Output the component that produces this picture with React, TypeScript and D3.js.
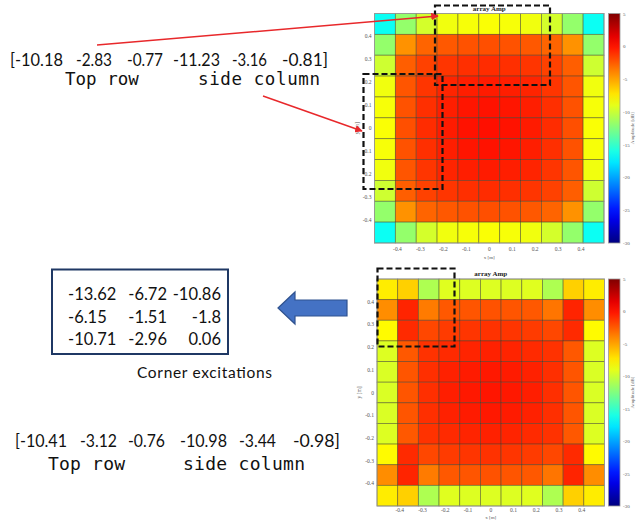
import React from "react";
import * as d3 from "d3";

// amplitude in dB, rows from top (y = 0.5) to bottom (y = -0.5)
const topAmp = [
  [-16.5, -11.8, -9.6, -8.6, -8.4, -8.3, -8.4, -8.6, -9.6, -11.8, -16.5],
  [-11.8, -4.4, -2.8, -2.4, -2.2, -2.1, -2.2, -2.4, -2.8, -4.4, -11.8],
  [-9.8, -2.6, -1.6, -1.2, -1.0, -0.9, -1.0, -1.2, -1.6, -2.6, -9.8],
  [-8.6, -2.3, -1.2, -0.6, -0.4, -0.3, -0.4, -0.6, -1.2, -2.3, -8.6],
  [-8.4, -2.2, -1.0, -0.4, -0.1, 0.0, -0.1, -0.4, -1.0, -2.2, -8.4],
  [-8.3, -2.1, -0.9, -0.3, 0.0, 0.1, 0.0, -0.3, -0.9, -2.1, -8.3],
  [-8.4, -2.2, -1.0, -0.4, -0.1, 0.0, -0.1, -0.4, -1.0, -2.2, -8.4],
  [-8.6, -2.3, -1.2, -0.6, -0.4, -0.3, -0.4, -0.6, -1.2, -2.3, -8.6],
  [-9.8, -2.6, -1.6, -1.2, -1.0, -0.9, -1.0, -1.2, -1.6, -2.6, -9.8],
  [-11.8, -4.4, -2.8, -2.4, -2.2, -2.1, -2.2, -2.4, -2.8, -4.4, -11.8],
  [-16.5, -11.8, -9.6, -8.6, -8.4, -8.3, -8.4, -8.6, -9.6, -11.8, -16.5],
];

const bottomAmp = [
  [-7.5, -6.5, -10.9, -9.2, -9.3, -9.3, -9.3, -9.2, -10.9, -6.5, -7.5],
  [-4.2, -0.6, -3.6, -2.4, -2.3, -2.2, -2.3, -2.4, -3.4, -0.6, -4.2],
  [-8.0, -0.8, -1.8, -1.4, -1.2, -1.1, -1.2, -1.4, -1.8, -0.8, -8.0],
  [-9.3, -2.4, -1.1, -0.8, -0.6, -0.5, -0.6, -0.8, -1.1, -2.4, -9.3],
  [-9.4, -2.3, -1.0, -0.5, -0.3, -0.2, -0.3, -0.5, -1.0, -2.3, -9.4],
  [-9.4, -2.3, -1.0, -0.4, -0.2, -0.1, -0.2, -0.4, -1.0, -2.3, -9.4],
  [-9.4, -2.3, -1.0, -0.5, -0.3, -0.2, -0.3, -0.5, -1.0, -2.3, -9.4],
  [-9.3, -2.4, -1.1, -0.8, -0.6, -0.5, -0.6, -0.8, -1.1, -2.4, -9.3],
  [-8.0, -0.8, -1.8, -1.4, -1.2, -1.1, -1.2, -1.4, -1.8, -0.8, -8.0],
  [-4.2, -0.6, -3.6, -2.4, -2.3, -2.2, -2.3, -2.4, -3.4, -0.6, -4.2],
  [-7.5, -6.5, -10.9, -9.2, -9.3, -9.3, -9.3, -9.2, -10.9, -6.5, -7.5],
];

const axisTicks = [-0.4, -0.3, -0.2, -0.1, 0, 0.1, 0.2, 0.3, 0.4];
const cbTicks = [5, 0, -5, -10, -15, -20, -25, -30];

const topExc = ["[-10.18", "-2.83", "-0.77", "-11.23", "-3.16", "-0.81]"];
const bottomExc = ["[-10.41", "-3.12", "-0.76", "-10.98", "-3.44", "-0.98]"];
const cornerExc = [
  ["-13.62", "-6.72", "-10.86"],
  ["-6.15", "-1.51", "-1.8"],
  ["-10.71", "-2.96", "0.06"],
];

// MATLAB style jet
function jet(t: number) {
  const c = (v: number) => Math.max(0, Math.min(1, v));
  const r = c(1.5 - Math.abs(4 * t - 3));
  const g = c(1.5 - Math.abs(4 * t - 2));
  const b = c(1.5 - Math.abs(4 * t - 1));
  return d3.rgb(r * 255, g * 255, b * 255).formatHex();
}
const color = d3.scaleSequential(jet).domain([-30, 5]);

const serif = "'Liberation Serif', 'DejaVu Serif', serif";

function Heatmap({ rows, left, top, width, height, id, tickGap, xLabelGap }: any) {
  const n = rows.length;
  const idx = d3.range(n);
  const xb = d3.scaleBand<number>().domain(idx).range([left, left + width]);
  const yb = d3.scaleBand<number>().domain(idx).range([top, top + height]);
  const x = d3.scaleLinear().domain([-0.5, 0.5]).range([left, left + width]);
  const y = d3.scaleLinear().domain([-0.5, 0.5]).range([top + height, top]);
  const cbX = 608.5, cbW = 11.5;
  const cb = d3.scaleLinear().domain([-30, 5]).range([top + height, top]);
  const stops = d3.range(0, 1.0001, 0.05);
  return (
    <g>
      <defs>
        <linearGradient id={id} x1="0" y1="1" x2="0" y2="0">
          {stops.map((s) => (
            <stop key={s} offset={s} stopColor={jet(s)} />
          ))}
        </linearGradient>
      </defs>
      {rows.map((r: number[], i: number) =>
        r.map((v, j) => (
          <rect key={`${i}-${j}`} x={xb(j)} y={yb(i)} width={xb.bandwidth()} height={yb.bandwidth()}
            fill={color(v)} stroke="#3a3a2a" strokeOpacity={0.55} strokeWidth={0.8} />
        ))
      )}
      <rect x={left} y={top} width={width} height={height} fill="none" stroke="#9a9a9a" strokeWidth={0.8} />
      <text x={left + width / 2} y={top - 3} textAnchor="middle" fontFamily={serif} fontWeight="bold" fontSize={7} fill="#222">array Amp</text>
      {axisTicks.map((t) => (
        <text key={"x" + t} x={x(t)} y={top + height + tickGap} textAnchor="middle" fontFamily={serif} fontSize={5.5} fill="#555">{t}</text>
      ))}
      {axisTicks.map((t) => (
        <text key={"y" + t} x={left - 3} y={y(t) + 2} textAnchor="end" fontFamily={serif} fontSize={5.5} fill="#555">{t}</text>
      ))}
      <text x={left + width / 2} y={top + height + xLabelGap} textAnchor="middle" fontFamily={serif} fontSize={5} fill="#555">x [m]</text>
      <text transform={`translate(${left - 16},${top + height / 2}) rotate(-90)`} textAnchor="middle" fontFamily={serif} fontSize={5.5} fill="#555">y [m]</text>
      <rect x={cbX} y={top} width={cbW} height={height} fill={`url(#${id})`} stroke="#9a9a9a" strokeWidth={0.8} />
      {cbTicks.map((t) => (
        <text key={"c" + t} x={cbX + cbW + 3} y={cb(t) + 2} fontFamily={serif} fontSize={5} fill="#555">{t}</text>
      ))}
      <text transform={`translate(${cbX + cbW + 14},${top + height / 2}) rotate(-90)`} textAnchor="middle" fontFamily={serif} fontSize={5} fill="#666">Amplitude [dB]</text>
    </g>
  );
}

const sans = "Lato, 'Open Sans', sans-serif";
const mono = "'DejaVu Sans Mono', 'Liberation Mono', monospace";

export default function App() {
  const topX = [10, 76, 127, 173, 232, 282];
  const topW = [53, 36, 36, 47, 35, 46];
  const botX = [15, 80, 128, 180, 239, 293];
  const botW = [52, 37, 37, 47, 37, 47];
  const colX = [68, 167, 221];
  const rowY = [300, 323, 345];
  return (
    <svg width={638} height={520} style={{ position: "absolute", left: 0, top: 0, background: "#fff" }}>
      <defs>
        <marker id="redHead" viewBox="0 0 10 10" refX="9" refY="5" markerWidth="5" markerHeight="5" orient="auto">
          <path d="M0,0 L10,5 L0,10 z" fill="#e8282b" />
        </marker>
      </defs>
      <Heatmap rows={topAmp} left={374.5} top={13.5} width={229.5} height={229.5} id="cbTop" tickGap={8} xLabelGap={16} />
      <Heatmap rows={bottomAmp} left={377} top={279} width={227.5} height={227} id="cbBot" tickGap={6} xLabelGap={13} />

      {/* dashed highlight boxes */}
      <g fill="none" stroke="#111" strokeWidth={2.2} strokeDasharray="6,3">
        <rect x={435} y={5.5} width={115} height={79.5} />
        <rect x={363.5} y={74} width={79} height={115} />
        <rect x={377.5} y={268.5} width={77} height={78} />
      </g>

      {/* red arrows */}
      <line x1={97} y1={45} x2={438} y2={16} stroke="#e8282b" strokeWidth={1.5} markerEnd="url(#redHead)" />
      <line x1={263} y1={96} x2={362} y2={131} stroke="#e8282b" strokeWidth={1.5} markerEnd="url(#redHead)" />

      {/* blue block arrow */}
      <path d="M278,308 L295,292 L295,300 L347,300 L347,316 L295,316 L295,324 Z" fill="#4472c4" stroke="#2f528f" strokeWidth={1.2} />

      {/* top annotation */}
      {topExc.map((s, i) => (
        <text key={"te" + i} x={topX[i]} y={66} fontFamily={sans} fontSize={17} fill="#111" textLength={topW[i]} lengthAdjust="spacingAndGlyphs">{s}</text>
      ))}
      <text x={65} y={85} fontFamily={mono} fontSize={17.5} fill="#111">Top row</text>
      <text x={198} y={85} fontFamily={mono} fontSize={17.5} fill="#111" textLength={122}>side column</text>

      {/* corner box */}
      <rect x={52} y={269.5} width={176} height={84.5} fill="none" stroke="#1f3864" strokeWidth={2} />
      {cornerExc.map((r, i) =>
        r.map((s, j) => (
          <text key={`ce${i}${j}`} x={colX[j]} y={rowY[i]} textAnchor={j === 0 ? "start" : "end"} fontFamily={sans} fontSize={16.5} fill="#111">{s}</text>
        ))
      )}
      <text x={137} y={378} fontFamily={sans} fontSize={15.5} fill="#111" textLength={135}>Corner excitations</text>

      {/* bottom annotation */}
      {bottomExc.map((s, i) => (
        <text key={"be" + i} x={botX[i]} y={447} fontFamily={sans} fontSize={17} fill="#111" textLength={botW[i]} lengthAdjust="spacingAndGlyphs">{s}</text>
      ))}
      <text x={48} y={470} fontFamily={mono} fontSize={18} fill="#111" textLength={77}>Top row</text>
      <text x={183} y={470} fontFamily={mono} fontSize={18} fill="#111" textLength={122}>side column</text>
    </svg>
  );
}
